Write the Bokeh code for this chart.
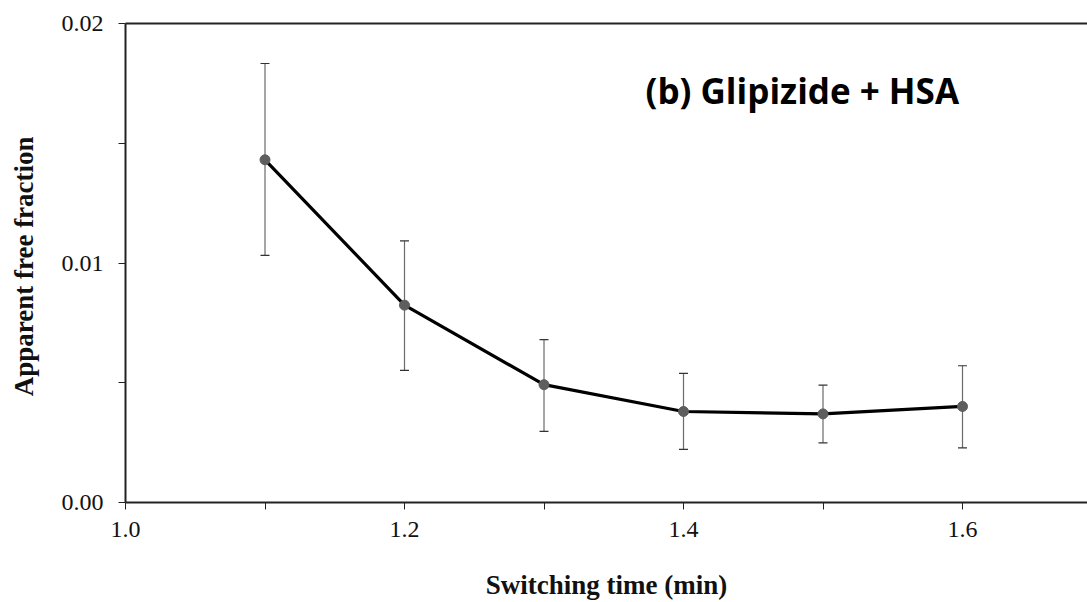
from bokeh.plotting import figure
from bokeh.models import (LinearAxis, FixedTicker, NumeralTickFormatter, Range1d,
                          Label, Whisker, ColumnDataSource)
from bokeh.embed import file_html
from bokeh.resources import INLINE

# Data
switching_time = [1.1, 1.2, 1.3, 1.4, 1.5, 1.6]
free_fraction = [0.01431, 0.00824, 0.00492, 0.00380, 0.00370, 0.00401]
err_upper = [0.01833, 0.01092, 0.00680, 0.00539, 0.00490, 0.00571]
err_lower = [0.01032, 0.00552, 0.00297, 0.00222, 0.00249, 0.00228]

x_major = [1.0, 1.2, 1.4, 1.6]
x_minor = [1.1, 1.3, 1.5, 1.7]
y_major = [0.0, 0.01, 0.02]
y_minor = [0.005, 0.015]

title_text = "(b) Glipizide + HSA"
x_label = "Switching time (min)"
y_label = "Apparent  free fraction"

src = ColumnDataSource(dict(x=switching_time, y=free_fraction,
                            upper=err_upper, lower=err_lower))

p = figure(width=1087, height=602, output_backend="svg", toolbar_location=None,
           x_range=Range1d(1.0, 1.6896), y_range=Range1d(0.0, 0.02),
           min_border_left=125, min_border_right=0, min_border_top=23,
           min_border_bottom=100)
p.outline_line_color = None
p.grid.visible = False
p.background_fill_color = "white"
p.border_fill_color = "white"

serif = "Liberation Serif"

# x axis
xa = p.xaxis[0]
xa.ticker = FixedTicker(ticks=x_major, minor_ticks=x_minor)
xa.formatter = NumeralTickFormatter(format="0.0")
xa.axis_line_width = 2
xa.axis_line_color = "#222222"
xa.major_tick_in = 0
xa.major_tick_out = 7
xa.minor_tick_in = 0
xa.minor_tick_out = 7
xa.major_tick_line_color = "#222222"
xa.minor_tick_line_color = "#222222"
xa.major_label_text_font = serif
xa.major_label_text_font_size = "24px"
xa.major_label_text_color = "#111111"
xa.major_label_standoff = 12
xa.axis_label = x_label
xa.axis_label_text_font = serif
xa.axis_label_text_font_style = "bold"
xa.axis_label_text_font_size = "27px"
xa.axis_label_text_color = "#111111"
xa.axis_label_standoff = 30

# y axis
ya = p.yaxis[0]
ya.ticker = FixedTicker(ticks=y_major, minor_ticks=y_minor)
ya.formatter = NumeralTickFormatter(format="0.00")
ya.axis_line_width = 2
ya.axis_line_color = "#222222"
ya.major_tick_in = 0
ya.major_tick_out = 7
ya.minor_tick_in = 0
ya.minor_tick_out = 7
ya.major_tick_line_color = "#222222"
ya.minor_tick_line_color = "#222222"
ya.major_label_text_font = serif
ya.major_label_text_font_size = "24px"
ya.major_label_text_color = "#111111"
ya.major_label_standoff = 15
ya.axis_label = y_label
ya.axis_label_text_font = serif
ya.axis_label_text_font_style = "bold"
ya.axis_label_text_font_size = "27px"
ya.axis_label_text_color = "#111111"
ya.axis_label_standoff = 20

# top border line
top = LinearAxis(major_tick_in=0, major_tick_out=0, minor_tick_in=0, minor_tick_out=0,
                 major_label_text_font_size="0px", axis_line_width=2,
                 axis_line_color="#222222")
top.ticker = FixedTicker(ticks=[])
p.add_layout(top, "above")

# error bars
w = Whisker(source=src, base="x", upper="upper", lower="lower",
            line_color="#6a6a6a", line_width=1.2)
w.upper_head.size = 9
w.lower_head.size = 9
w.upper_head.line_color = "#333333"
w.lower_head.line_color = "#333333"
w.upper_head.line_width = 1.2
w.lower_head.line_width = 1.2
p.add_layout(w)

p.line("x", "y", source=src, line_color="black", line_width=3.2)
p.scatter("x", "y", source=src, size=10, fill_color="#5e5e5e", line_color="#5e5e5e")

lab = Label(x=1.3728, y=0.01722, text=title_text, text_font="Open Sans",
            text_font_style="bold", text_font_size="35px", text_color="black",
            text_align="left", text_baseline="alphabetic")
p.add_layout(lab)

open("out.html", "w").write(file_html(p, INLINE))
